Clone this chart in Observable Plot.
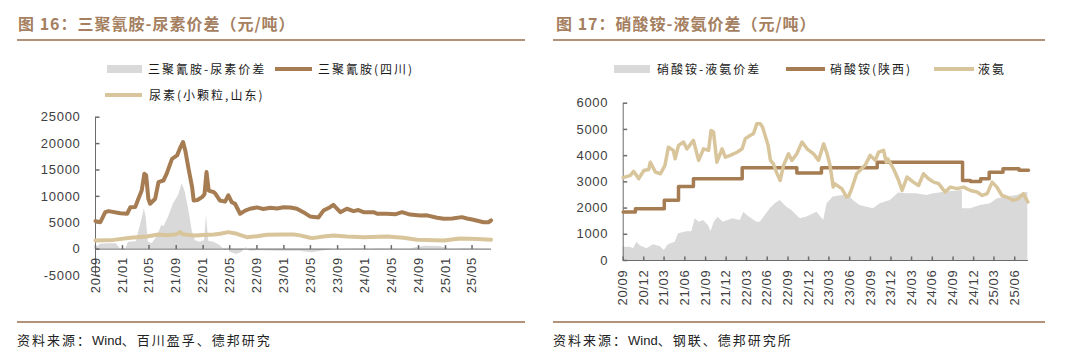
<!DOCTYPE html>
<html><head><meta charset="utf-8">
<script src="https://cdn.jsdelivr.net/npm/d3@7"></script>
<script src="https://cdn.jsdelivr.net/npm/@observablehq/plot@0.6"></script>
<style>
body{margin:0;background:#fff;width:1080px;height:361px;position:relative;overflow:hidden;font-family:"Noto Sans CJK SC",sans-serif}
.abs{position:absolute}
.title{font-weight:bold;font-size:16px;line-height:20px;color:#a57f5f;letter-spacing:1px;white-space:nowrap}
.rule{height:2px;background:#b3927a}
.lg{font-size:12px;line-height:16px;letter-spacing:2px;color:#1a1a1a;white-space:nowrap}
.src{font-size:13px;line-height:16px;letter-spacing:2px;color:#222;white-space:nowrap}
.src span{font-family:"Liberation Sans",Arial,sans-serif;letter-spacing:0}
svg text{letter-spacing:.7px}
</style></head>
<body>
<div class="abs title" style="left:18px;top:13px">图 16：三聚氰胺-尿素价差（元/吨）</div>
<div class="abs rule" style="left:17px;top:39px;width:508px"></div>
<div class="abs" style="left:107px;top:65px;width:35px;height:8px;background:#d9d9d9"></div>
<div class="abs lg" style="left:148px;top:61px">三聚氰胺-尿素价差</div>
<div class="abs" style="left:275px;top:67px;width:37px;height:4px;background:#a67c52"></div>
<div class="abs lg" style="left:318px;top:61px">三聚氰胺(四川)</div>
<div class="abs" style="left:105px;top:93px;width:37px;height:4px;background:#d9c59b"></div>
<div class="abs lg" style="left:149px;top:87px">尿素(小颗粒,山东)</div>
<div class="abs rule" style="left:17px;top:321px;width:508px"></div>
<div class="abs src" style="left:17px;top:332px">资料来源：<span>Wind</span>、百川盈孚、德邦研究</div>

<div class="abs title" style="left:556px;top:13px">图 17：硝酸铵-液氨价差（元/吨）</div>
<div class="abs rule" style="left:553px;top:39px;width:492px"></div>
<div class="abs" style="left:614px;top:65px;width:36px;height:8px;background:#d9d9d9"></div>
<div class="abs lg" style="left:657px;top:61px">硝酸铵-液氨价差</div>
<div class="abs" style="left:786px;top:67px;width:39px;height:4px;background:#a67c52"></div>
<div class="abs lg" style="left:830px;top:61px">硝酸铵(陕西)</div>
<div class="abs" style="left:934px;top:67px;width:40px;height:4px;background:#d9c59b"></div>
<div class="abs lg" style="left:978px;top:61px">液氨</div>
<div class="abs rule" style="left:553px;top:321px;width:492px"></div>
<div class="abs src" style="left:553px;top:332px">资料来源：<span>Wind</span>、钢联、德邦研究所</div>

<div id="L" class="abs" style="left:0;top:100px"></div>
<div id="R" class="abs" style="left:540px;top:90px"></div>
<script>
// ---------- Left chart data (元/吨) ----------
const melamineSichuan = [["2020-09-01",5300],["2020-09-23",5100],["2020-10-15",7000],["2020-10-30",7200],["2020-12-22",6800],["2021-01-22",6700],["2021-02-06",7950],["2021-02-28",8000],["2021-03-14",9550],["2021-03-29",11100],["2021-04-10",14300],["2021-04-18",14000],["2021-04-28",9550],["2021-05-06",8600],["2021-05-29",9550],["2021-06-13",12700],["2021-07-05",13000],["2021-07-20",14300],["2021-08-13",17100],["2021-09-05",17750],["2021-09-20",19300],["2021-10-02",20300],["2021-10-12",18700],["2021-10-27",15200],["2021-11-12",11750],["2021-11-19",9200],["2021-12-06",9300],["2021-12-27",9850],["2022-01-07",10400],["2022-01-16",14600],["2022-01-26",11100],["2022-02-18",10800],["2022-02-25",10500],["2022-03-18",9200],["2022-04-10",9000],["2022-04-25",10200],["2022-05-10",8900],["2022-05-25",8600],["2022-06-17",6700],["2022-07-10",7300],["2022-08-01",7650],["2022-09-01",7900],["2022-09-30",7600],["2022-11-01",7840],["2022-12-01",7700],["2022-12-31",7950],["2023-01-31",7900],["2023-03-01",7650],["2023-03-30",7000],["2023-04-29",6200],["2023-06-06",6000],["2023-06-29",7300],["2023-07-29",7950],["2023-08-13",8400],["2023-08-28",7700],["2023-09-13",7000],["2023-10-13",7650],["2023-11-12",7200],["2023-12-04",7400],["2023-12-27",7000],["2024-02-11",7000],["2024-02-27",6700],["2024-04-11",6700],["2024-05-18",6600],["2024-06-18",7000],["2024-07-25",6550],["2024-09-09",6380],["2024-10-09",6400],["2024-11-24",5950],["2024-12-24",5750],["2025-02-01",5800],["2025-03-16",6060],["2025-04-08",5800],["2025-05-07",5570],["2025-06-22",5100],["2025-07-14",5100],["2025-07-26",5430]];
const ureaShandong = [["2020-09-01",1650],["2020-11-22",1750],["2021-02-06",2150],["2021-04-21",2400],["2021-06-13",2780],["2021-07-20",2650],["2021-08-28",2780],["2021-09-20",3220],["2021-09-30",2800],["2021-11-19",2600],["2022-02-18",2750],["2022-03-18",2900],["2022-04-25",3220],["2022-06-02",2900],["2022-07-17",2270],["2022-09-01",2450],["2022-10-16",2720],["2022-12-31",2750],["2023-02-15",2780],["2023-03-15",2600],["2023-04-29",2150],["2023-05-10",2080],["2023-06-29",2400],["2023-08-13",2600],["2023-10-13",2400],["2023-12-27",2270],["2024-04-11",2400],["2024-06-25",2150],["2024-08-25",1780],["2024-12-24",1650],["2025-03-08",2030],["2025-05-23",1900],["2025-07-26",1780]];
const spreadMelUrea = [["2020-09-01",0],["2020-09-23",900],["2020-10-29",1000],["2020-12-04",1000],["2020-12-22",100],["2021-01-14",-200],["2021-01-28",1300],["2021-03-04",1400],["2021-03-29",5400],["2021-04-10",7650],["2021-04-18",6000],["2021-04-28",1300],["2021-05-15",1000],["2021-06-06",2270],["2021-06-28",4500],["2021-07-08",4300],["2021-07-28",6060],["2021-08-20",8600],["2021-09-12",10170],["2021-09-28",12400],["2021-10-12",10800],["2021-10-27",7650],["2021-11-12",3540],["2021-11-27",1600],["2021-12-19",1300],["2022-01-07",1600],["2022-01-16",6380],["2022-01-26",1500],["2022-02-18",1300],["2022-03-18",700],["2022-04-10",-250],["2022-04-25",300],["2022-05-01",-570],["2022-06-02",-1000],["2022-06-26",-600],["2022-07-14",300],["2022-08-01",-400],["2022-09-16",-300],["2022-12-16",-400],["2023-03-15",-400],["2023-04-04",-570],["2023-05-10",-700],["2023-06-05",-500],["2023-07-19",-200],["2023-08-13",0],["2023-12-12",-100],["2024-03-01",100],["2024-07-25",0],["2024-08-25",300],["2024-10-01",550],["2024-12-09",500],["2024-12-24",300],["2025-01-24",0],["2025-04-01",-100],["2025-07-26",0]];
const leftYTicks = [-5000, 0, 5000, 10000, 15000, 20000, 25000];
const leftXTicks = ["2020-09-01","2021-01-01","2021-05-01","2021-09-01","2022-01-01","2022-05-01","2022-09-01","2023-01-01","2023-05-01","2023-09-01","2024-01-01","2024-05-01","2024-09-01","2025-01-01","2025-05-01"];
const leftXDomain = ["2020-09-01","2025-07-28"];

// ---------- Right chart data (元/吨) ----------
const nitrateShaanxi = [["2020-09-01",1850],["2020-10-25",1970],["2021-03-02",2300],["2021-05-04",2820],["2021-07-09",3120],["2022-02-10",3540],["2022-10-10",3340],["2023-01-27",3540],["2023-10-01",3750],["2024-10-13",3050],["2024-11-17",3010],["2025-01-01",3120],["2025-02-08",3370],["2025-04-10",3500],["2025-06-20",3440],["2025-08-01",3440]];
const liquidAmmonia = [["2020-09-01",3160],["2020-10-03",3250],["2020-10-17",3400],["2020-11-09",3120],["2020-12-01",3430],["2020-12-23",3470],["2020-12-30",3750],["2021-01-22",3370],["2021-02-13",3310],["2021-03-05",3630],["2021-03-20",4320],["2021-04-11",4200],["2021-04-19",3880],["2021-05-04",4390],["2021-05-26",4520],["2021-06-10",4260],["2021-07-09",4580],["2021-08-01",3820],["2021-08-23",4260],["2021-09-14",4200],["2021-09-25",4960],["2021-10-06",4900],["2021-10-21",3750],["2021-11-13",4260],["2021-11-27",3940],["2021-12-19",4010],["2022-01-18",4130],["2022-02-10",4260],["2022-02-24",4650],["2022-03-17",4770],["2022-04-01",4840],["2022-04-16",5220],["2022-05-01",5220],["2022-05-11",5090],["2022-06-05",4390],["2022-06-15",3820],["2022-06-28",3690],["2022-07-12",3360],["2022-07-28",3050],["2022-08-12",3630],["2022-09-03",4070],["2022-09-18",3820],["2022-10-10",4070],["2022-11-02",4520],["2022-11-24",4260],["2022-12-23",4070],["2023-01-14",3820],["2023-02-06",4450],["2023-02-21",4070],["2023-03-06",3630],["2023-03-20",2800],["2023-03-26",2930],["2023-04-27",2740],["2023-05-19",2420],["2023-05-29",2480],["2023-06-10",2740],["2023-07-02",3310],["2023-07-17",3440],["2023-08-08",3630],["2023-08-31",4010],["2023-09-22",3820],["2023-10-07",4130],["2023-10-29",4200],["2023-11-10",3750],["2023-11-17",3880],["2023-12-12",3500],["2024-01-04",3050],["2024-01-19",2670],["2024-02-10",3180],["2024-03-09",2990],["2024-04-01",2860],["2024-04-23",3310],["2024-05-15",3120],["2024-06-07",2990],["2024-06-29",2930],["2024-07-28",2610],["2024-08-20",2800],["2024-09-19",2740],["2024-10-18",2800],["2024-11-17",2670],["2024-12-16",2610],["2025-01-08",2480],["2025-01-30",2550],["2025-02-21",2990],["2025-03-14",2800],["2025-04-05",2480],["2025-04-27",2420],["2025-05-26",2290],["2025-06-17",2360],["2025-07-09",2550],["2025-07-29",2230]];
const spreadNitrateAmmonia = [["2020-09-01",510],["2020-10-03",510],["2020-10-17",450],["2020-11-01",700],["2020-11-15",560],["2020-12-15",450],["2021-01-13",600],["2021-02-13",520],["2021-03-02",380],["2021-03-20",600],["2021-04-19",700],["2021-05-04",1020],["2021-06-10",1100],["2021-07-02",1100],["2021-07-17",1590],["2021-08-04",1460],["2021-08-23",1530],["2021-09-14",1330],["2021-09-25",1100],["2021-10-09",1460],["2021-10-26",1650],["2021-11-18",1460],["2021-12-31",1590],["2022-02-02",1530],["2022-02-17",1840],["2022-03-10",1680],["2022-04-16",1460],["2022-05-01",1460],["2022-06-14",1970],["2022-07-06",2160],["2022-07-28",2290],["2022-08-27",2030],["2022-09-18",1910],["2022-10-25",1590],["2022-11-24",1660],["2023-01-07",1840],["2023-02-06",1530],["2023-02-21",2160],["2023-03-20",2420],["2023-05-04",2480],["2023-05-29",2480],["2023-06-17",2290],["2023-07-17",2100],["2023-08-16",2030],["2023-09-15",1970],["2023-10-14",2160],["2023-11-28",2290],["2024-01-04",2570],["2024-02-10",2550],["2024-03-24",2550],["2024-05-08",2480],["2024-06-07",2550],["2024-08-05",2610],["2024-10-12",2670],["2024-10-13",1970],["2024-11-17",1970],["2025-01-01",2100],["2025-02-14",2160],["2025-03-14",2350],["2025-04-27",2420],["2025-06-11",2480],["2025-07-29",2610]];
const rightYTicks = [0, 1000, 2000, 3000, 4000, 5000, 6000];
const rightXTicks = ["2020-09-01","2020-12-01","2021-03-01","2021-06-01","2021-09-01","2021-12-01","2022-03-01","2022-06-01","2022-09-01","2022-12-01","2023-03-01","2023-06-01","2023-09-01","2023-12-01","2024-03-01","2024-06-01","2024-09-01","2024-12-01","2025-03-01","2025-06-01"];
const rightXDomain = ["2020-09-01","2025-08-01"];

// ---------- helpers ----------
const rows = pairs => pairs.map(([d, v]) => ({date: new Date(d), value: v}));
const dates = arr => arr.map(d => new Date(d));
const fmt = d3.utcFormat("%y/%m");
const tickUp = {draw(c) { c.moveTo(0, 0); c.lineTo(0, -4); }};
const tickRight = {draw(c) { c.moveTo(0, 0); c.lineTo(4, 0); }};
const AX = "#6b6b6b", BROWN = "#a67c52", TAN = "#d9c59b", GREY = "#d9d9d9";
const style = {fontFamily: "'Liberation Sans', Arial, sans-serif", fontSize: "13px", color: "#404040", background: "transparent", overflow: "visible"};

function axisMarks(xTicks, yTicks, xd, labelDy) {
  return [
    Plot.ruleX([xd[0]], {stroke: AX}),
    Plot.ruleY([0], {stroke: AX}),
    Plot.dot(yTicks, {y: d => d, frameAnchor: "left", symbol: tickRight, stroke: AX, fill: "none"}),
    Plot.dot(xTicks, {x: d => d, y: () => 0, symbol: tickUp, stroke: AX, fill: "none"}),
    Plot.text(yTicks, {y: d => d, frameAnchor: "left", text: d => String(d), textAnchor: "end", dx: -15}),
    Plot.text(xTicks, {x: d => d, y: () => 0, text: d => fmt(d), rotate: -90, textAnchor: "end", dy: labelDy})
  ];
}

// ---------- Left chart ----------
const lxd = dates(leftXDomain), lxt = dates(leftXTicks);
const left = Plot.plot({
  width: 540, height: 200,
  marginLeft: 95, marginRight: 49, marginTop: 16.7, marginBottom: 25,
  x: {type: "utc", domain: lxd, axis: null},
  y: {domain: [-5000, 25000], axis: null},
  style,
  marks: [
    Plot.areaY(rows(spreadMelUrea), {x: "date", y: "value", fill: GREY}),
    ...axisMarks(lxt, leftYTicks, lxd, 8),
    Plot.line(rows(melamineSichuan), {x: "date", y: "value", stroke: BROWN, strokeWidth: 4}),
    Plot.line(rows(ureaShandong), {x: "date", y: "value", stroke: TAN, strokeWidth: 4})
  ]
});
document.getElementById("L").append(left);

// ---------- Right chart ----------
const rxd = dates(rightXDomain), rxt = dates(rightXTicks);
const right = Plot.plot({
  width: 540, height: 230,
  marginLeft: 82.7, marginRight: 52, marginTop: 12.7, marginBottom: 60,
  x: {type: "utc", domain: rxd, axis: null},
  y: {domain: [0, 6000], axis: null},
  style,
  marks: [
    Plot.areaY(rows(spreadNitrateAmmonia), {x: "date", y: "value", fill: GREY}),
    ...axisMarks(rxt, rightYTicks, rxd, 9),
    Plot.line(rows(nitrateShaanxi), {x: "date", y: "value", stroke: BROWN, strokeWidth: 3.5, curve: "step-after"}),
    Plot.line(rows(liquidAmmonia), {x: "date", y: "value", stroke: TAN, strokeWidth: 3.5})
  ]
});
document.getElementById("R").append(right);
</script>
</body></html>
